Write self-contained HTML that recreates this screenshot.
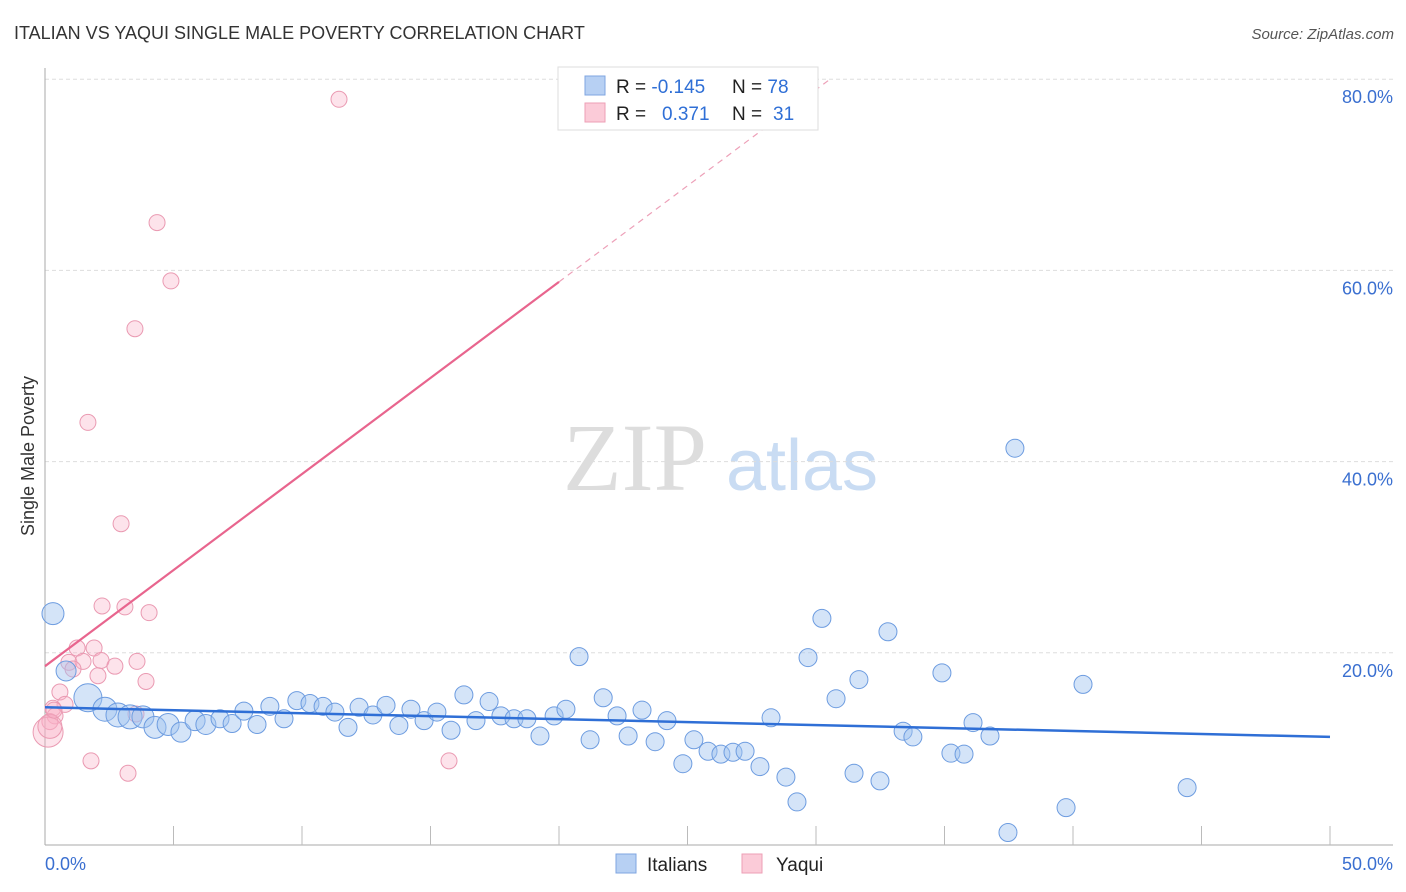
<!DOCTYPE html>
<html><head><meta charset="utf-8"><style>
body{margin:0;background:#fff;font-family:"Liberation Sans",sans-serif}
svg{display:block}
</style></head><body>
<svg id="chart" width="1406" height="892">
<text x="14" y="39" font-size="18" fill="#333">ITALIAN VS YAQUI SINGLE MALE POVERTY CORRELATION CHART</text>
<text x="1394" y="39" font-size="15" font-style="italic" fill="#555" text-anchor="end">Source: ZipAtlas.com</text>
<text x="635" y="490" font-size="96" font-family="Liberation Serif,serif" fill="#ddd" text-anchor="middle">ZIP</text>
<text x="802" y="490" font-size="72" fill="#c9dcf3" text-anchor="middle">atlas</text>
<g id="grid"></g><g id="axes"></g><g id="pts"></g><g id="lines"></g>
<text transform="translate(34,456) rotate(-90)" font-size="18" fill="#333" text-anchor="middle">Single Male Poverty</text>
<g>
<rect x="558" y="67" width="260" height="63" fill="#fff" stroke="#ddd"/>
<rect x="585" y="76" width="20" height="19" fill="#b7d0f3" stroke="#7fa6e0"/>
<rect x="585" y="103" width="20" height="19" fill="#fbcbd8" stroke="#ee9fb6"/>
<text x="616" y="93" font-size="19" fill="#222">R = <tspan fill="#2f6fd6">-0.145</tspan></text>
<text x="732" y="93" font-size="19" fill="#222">N = <tspan fill="#2f6fd6">78</tspan></text>
<text x="616" y="120" font-size="19" fill="#222">R = <tspan fill="#2f6fd6" x="662">0.371</tspan></text>
<text x="732" y="120" font-size="19" fill="#222">N = <tspan fill="#2f6fd6" x="773">31</tspan></text>
</g>
<rect x="616" y="854" width="20" height="19" fill="#b7d0f3" stroke="#7fa6e0"/>
<text x="647" y="871" font-size="19" fill="#222">Italians</text>
<rect x="742" y="854" width="20" height="19" fill="#fbcbd8" stroke="#ee9fb6"/>
<text x="776" y="871" font-size="19" fill="#222">Yaqui</text>
</svg>
<script>
const yTicks=[20,40,60,80];
const xTickLabels=["0.0%","50.0%"];
const italianX=[0.31,0.82,1.67,2.33,2.84,3.31,3.81,4.28,4.79,5.29,5.84,6.26,6.81,7.28,7.74,8.25,8.75,9.30,9.80,10.31,10.82,11.28,11.79,12.22,12.76,13.27,13.77,14.24,14.75,15.25,15.80,16.30,16.77,17.28,17.74,18.25,18.75,19.26,19.81,20.27,20.78,21.21,21.72,22.26,22.69,23.23,23.74,24.20,24.82,25.25,25.80,26.30,26.77,27.24,27.82,28.25,28.83,29.26,29.69,30.23,30.78,31.48,31.67,32.49,32.80,33.39,33.77,34.90,35.25,35.76,36.11,36.77,37.47,37.74,39.73,40.39,44.44];
const italianY=[24.1,18.1,15.3,14.1,13.5,13.3,13.3,12.2,12.5,11.7,12.9,12.5,13.1,12.6,13.9,12.5,14.4,13.1,15.0,14.7,14.4,13.8,12.2,14.3,13.5,14.5,12.4,14.1,12.9,13.8,11.9,15.6,12.9,14.9,13.4,13.1,13.1,11.3,13.4,14.1,19.6,10.9,15.3,13.4,11.3,14.0,10.7,12.9,8.4,10.9,9.7,9.4,9.6,9.7,8.1,13.2,7.0,4.4,19.5,23.6,15.2,7.4,17.2,6.6,22.2,11.8,11.2,17.9,9.5,9.4,12.7,11.3,1.2,41.4,3.8,16.7,5.9];
const italianR=[11,10,14,12,12,12,11,11,11,10,10,10,9,9,9,9,9,9,9,9,9,9,9,9,9,9,9,9,9,9,9,9,9,9,9,9,9,9,9,9,9,9,9,9,9,9,9,9,9,9,9,9,9,9,9,9,9,9,9,9,9,9,9,9,9,9,9,9,9,9,9,9,9,9,9,9,9];
const yaquiX=[11.44,4.36,4.90,3.50,1.67,2.96,2.22,3.11,4.05,1.25,1.91,0.93,1.48,2.18,2.72,3.58,1.09,2.06,3.93,0.58,0.78,0.31,0.39,0.19,0.12,0.19,1.79,3.23,15.72,3.54,0.35];
const yaquiY=[77.9,65.0,58.9,53.9,44.1,33.5,24.9,24.8,24.2,20.5,20.5,19.0,19.1,19.2,18.6,19.1,18.3,17.6,17.0,15.9,14.6,14.2,13.4,12.8,11.7,12.3,8.7,7.4,8.7,13.6,14.0];
const yaquiR=[8,8,8,8,8,8,8,8,8,8,8,8,8,8,8,8,8,8,8,8,8,8,8,8,15,12,8,8,8,8,8];
const italianTrend=[14.3,11.2];
const yaquiTrend=[18.6,58.8,80];
const X0=45,X1=1330,Y0=844,YS=9.56;
const sx=v=>X0+(X1-X0)*v/50, sy=v=>Y0-v*YS;
const NS="http://www.w3.org/2000/svg";
function mk(t,a,p){const e=document.createElementNS(NS,t);for(const k in a)e.setAttribute(k,a[k]);document.getElementById(p).appendChild(e);return e;}
yTicks.forEach(v=>{
 const l=mk('line',{x1:X0,x2:1393,y1:sy(v),y2:sy(v),stroke:'#ddd','stroke-dasharray':'4,3'},'grid');
 
 
 const t=mk('text',{x:1393,y:sy(v)+24,'font-size':18,fill:'#3a6fd0','text-anchor':'end'},'grid');
 t.textContent=v.toFixed(1)+'%';
 
 
});
const ax=mk('line',{x1:X0,x2:1393,y1:845,y2:845,stroke:'#aaa'},'axes');


const ay=mk('line',{x1:X0,x2:X0,y1:68,y2:845,stroke:'#aaa'},'axes');


for(let i=1;i<=10;i++){const tk=mk('line',{x1:sx(i*5),x2:sx(i*5),y1:826,y2:845,stroke:'#bbb'},'axes');
 
 }
[[0,'start'],[50,'end']].forEach((p,i)=>{const t=mk('text',{x:sx(p[0])+(i?63:0),y:870,'font-size':18,fill:'#3a6fd0','text-anchor':p[1]},'axes');
 t.textContent=xTickLabels[i];
 
 });
yaquiX.forEach((x,i)=>{const c=mk('circle',{cx:sx(x),cy:sy(yaquiY[i]),r:yaquiR[i],fill:'rgba(248,175,198,0.35)',stroke:'#ea9ab2','stroke-width':1},'pts');
 
 });
italianX.forEach((x,i)=>{const c=mk('circle',{cx:sx(x),cy:sy(italianY[i]),r:italianR[i],fill:'rgba(160,195,240,0.45)',stroke:'#6d9ce0','stroke-width':1},'pts');
 
 });
const bl=mk('line',{x1:sx(0),y1:sy(italianTrend[0]),x2:sx(50),y2:sy(italianTrend[1]),stroke:'#2f6fd6','stroke-width':2.5},'lines');


const k=(yaquiTrend[1]-yaquiTrend[0])/20;
const pl=mk('line',{x1:sx(0),y1:sy(yaquiTrend[0]),x2:sx(20),y2:sy(yaquiTrend[1]),stroke:'#e8658e','stroke-width':2.2},'lines');


const xe=(yaquiTrend[2]-yaquiTrend[0])/k;
const pd=mk('line',{x1:sx(20),y1:sy(yaquiTrend[1]),x2:sx(xe),y2:sy(yaquiTrend[2]),stroke:'#eda0b8','stroke-width':1.2,'stroke-dasharray':'6,5'},'lines');


</script>
</body></html>
